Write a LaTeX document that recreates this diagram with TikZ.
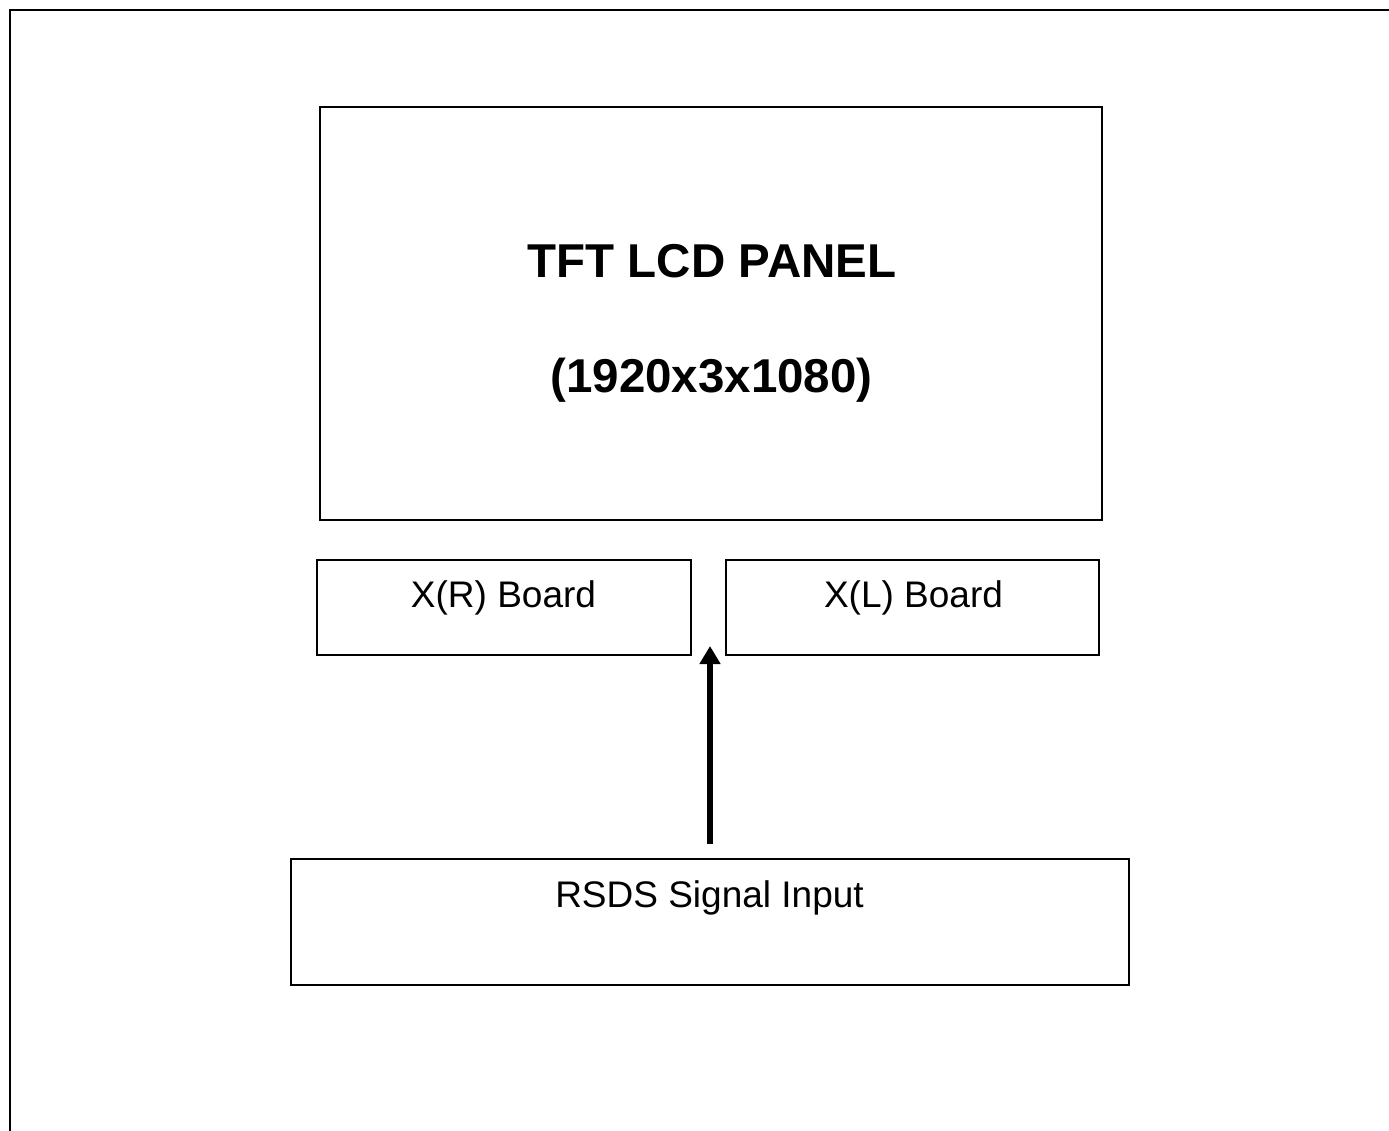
\documentclass[tikz,border=0pt]{standalone}
\usepackage{fontspec}
\setmainfont{Liberation Sans}
\usetikzlibrary{arrows.meta}
\begin{document}
\begin{tikzpicture}[x=1pt,y=-1pt,
  box/.style={draw=black,line width=2.2pt,minimum width=#1,inner sep=0pt},
  bigtxt/.style={anchor=base,inner sep=0pt,font=\fontsize{47.5}{52}\selectfont\bfseries},
  smalltxt/.style={anchor=base,inner sep=0pt,font=\fontsize{37}{41}\selectfont},
  sig/.style={line width=6pt,-{Triangle[length=18pt,width=20pt]}}]
\useasboundingbox (0,0) rectangle (1389,1131);
% outer frame (clipped on right and bottom)
\coordinate (fbl) at (10,1140);
\coordinate (ftl) at (10,10);
\coordinate (ftr) at (1400,10);
\draw[line width=2.2pt] (fbl) -- (ftl) -- (ftr);
% panel
\node[draw=black,line width=2.8pt,minimum width=782pt,minimum height=413pt,inner sep=0pt] (panel) at (711,313.5) {};
\node[bigtxt] (t1) at (712,277.5) {TFT LCD PANEL};
\node[bigtxt] (t2) at (711.5,392.5) {(1920x3x1080)};
% boards
\node[box=374pt,minimum height=95pt] (xr) at (504,607.5) {};
\node[smalltxt] (xrt) at (503.5,607.5) {X(R) Board};
\node[box=373pt,minimum height=95pt] (xl) at (912.5,607.5) {};
\node[smalltxt] (xlt) at (913.5,607.5) {X(L) Board};
% input
\node[box=838pt,minimum height=126pt] (rsds) at (710,922) {};
\node[smalltxt] (rt) at (709.5,907.5) {RSDS Signal Input};
% arrow
\coordinate (tip) at (710,646);
\draw[sig,shorten <=14pt] (rsds.north) -- (tip);
\end{tikzpicture}
\end{document}
